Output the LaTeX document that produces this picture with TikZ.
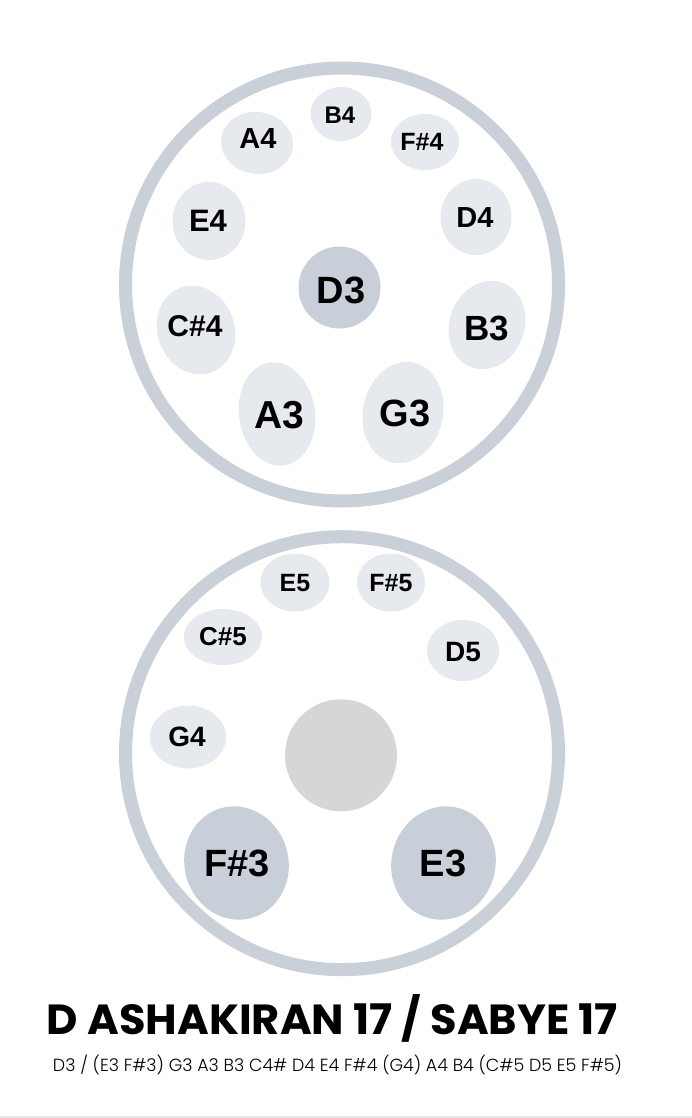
\documentclass[tikz,border=0pt]{standalone}
\usepackage{fontspec}
\setmainfont{Liberation Sans}
\newfontfamily\titlefont{Poppins}
\newfontfamily\subfont{Poppins}[UprightFont=* Light]
\definecolor{ringcol}{HTML}{C9D0D8}
\definecolor{padlight}{HTML}{E6E9EE}
\definecolor{paddark}{HTML}{C9CFD8}
\definecolor{centergray}{HTML}{D6D6D6}
\definecolor{stripcol}{HTML}{E6E7EB}
\tikzset{
  ring/.style={draw=ringcol, line width=13pt},
  lightpad/.style={fill=padlight},
  darkpad/.style={fill=paddark},
  lbl/.style={inner sep=0pt, anchor=center, text=black},
}
\newcommand{\lblfont}[1]{\fontsize{#1}{#1}\selectfont\bfseries}
\begin{document}
\begin{tikzpicture}[x=1pt,y=-1pt]
\useasboundingbox (0,0) rectangle (692,1118);
\fill[white] (0,0) rectangle (692,1118);
\fill[stripcol] (0,1115.5) rectangle (692,1118);

% ---------- top drum ----------
\coordinate (topc) at (342,284.5);
\draw[ring] (topc) circle (216.5);
\fill[lightpad] (341,114) ellipse [x radius=30.5, y radius=27];
\fill[lightpad, rotate around={-8:(257,143)}] (257,143) ellipse [x radius=36, y radius=31];
\fill[lightpad] (425,142) ellipse [x radius=34, y radius=28];
\fill[lightpad] (209,221) ellipse [x radius=36.5, y radius=39];
\fill[lightpad] (476,217) ellipse [x radius=35.5, y radius=38];
\fill[darkpad] (339.5,287.5) circle (41);
\fill[lightpad, rotate around={20:(196,330)}] (196,330) ellipse [x radius=38.5, y radius=45];
\fill[lightpad, rotate around={-20:(487,325)}] (487,325) ellipse [x radius=37.5, y radius=45];
\fill[lightpad, rotate around={8:(277,414)}] (277,414) ellipse [x radius=38, y radius=52];
\fill[lightpad, rotate around={-12:(403,412.5)}] (403,412.5) ellipse [x radius=40, y radius=51];

\node[lbl, font=\lblfont{24}] (tB4) at (340,115) {B4};
\node[lbl, font=\lblfont{29}] (tA4) at (258,139) {A4};
\node[lbl, font=\lblfont{25}] (tFs4) at (422,142) {F\#4};
\node[lbl, font=\lblfont{31}] (tE4) at (208,221) {E4};
\node[lbl, font=\lblfont{29}] (tD4) at (475,218) {D4};
\node[lbl, font=\lblfont{38}] (tD3) at (341,290) {D3};
\node[lbl, font=\lblfont{30}] (tCs4) at (195,326) {C\#4};
\node[lbl, font=\lblfont{35}] (tB3) at (487,328) {B3};
\node[lbl, font=\lblfont{39}] (tA3) at (279,415) {A3};
\node[lbl, font=\lblfont{38}] (tG3) at (405,413) {G3};

% ---------- bottom drum ----------
\coordinate (botc) at (342,753.2);
\draw[ring] (botc) circle (216.5);
\fill[lightpad] (295,582.5) ellipse [x radius=34.5, y radius=29];
\fill[lightpad] (391,582.5) ellipse [x radius=34, y radius=29];
\fill[lightpad] (223,637) ellipse [x radius=39, y radius=28];
\fill[lightpad] (463,650.5) ellipse [x radius=36, y radius=30.5];
\fill[lightpad] (188,737) ellipse [x radius=38, y radius=31.5];
\fill[centergray] (341,755.3) circle (56);
\fill[darkpad, rotate around={15:(236.5,863)}] (236.5,863) ellipse [x radius=52, y radius=57];
\fill[darkpad, rotate around={-15:(443.5,863)}] (443.5,863) ellipse [x radius=52, y radius=57];

\node[lbl, font=\lblfont{25}] (bE5) at (295,583) {E5};
\node[lbl, font=\lblfont{25}] (bFs5) at (391,583) {F\#5};
\node[lbl, font=\lblfont{26}] (bCs5) at (223,637) {C\#5};
\node[lbl, font=\lblfont{28}] (bD5) at (463,652) {D5};
\node[lbl, font=\lblfont{28}] (bG4) at (187,737) {G4};
\node[lbl, font=\lblfont{38}] (bFs3) at (237,863) {F\#3};
\node[lbl, font=\lblfont{38}] (bE3) at (443,863) {E3};

% ---------- captions ----------
\node[inner sep=0pt, anchor=base] (title) at (332.5,1034)
  {\resizebox{571pt}{40pt}{\titlefont\bfseries D ASHAKIRAN 17 / SABYE 17}};
\node[inner sep=0pt, anchor=base] (scale) at (337.5,1071)
  {\resizebox{569pt}{16.5pt}{\subfont D3 / (E3 F\#3) G3 A3 B3 C4\# D4 E4 F\#4 (G4) A4 B4 (C\#5 D5 E5 F\#5)}};
\end{tikzpicture}
\end{document}
